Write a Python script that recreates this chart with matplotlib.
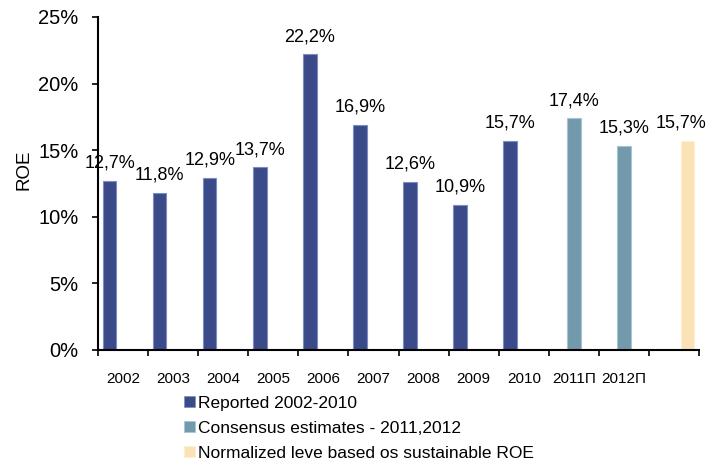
import matplotlib
matplotlib.use("Agg")
import matplotlib.pyplot as plt
from matplotlib.patches import Patch
from matplotlib.ticker import FixedLocator

plt.rcParams["font.family"] = ["Liberation Sans", "DejaVu Sans"]

# ROE, % per year
categories = ["2002", "2003", "2004", "2005", "2006", "2007", "2008",
              "2009", "2010", "2011П", "2012П", ""]
reported = [12.7, 11.8, 12.9, 13.7, 22.2, 16.9, 12.6, 10.9, 15.7]
consensus = [17.4, 15.3]
normalized = [15.7]
series_names = ["Reported 2002-2010",
                "Consensus estimates - 2011,2012",
                "Normalized leve based os sustainable ROE"]
colors = ["#3b4a89", "#739aac", "#fce1b4"]
edges = ["#7f8cc4", "#a9c3cf", "#fdeed5"]

fig = plt.figure(figsize=(7.09, 4.61), dpi=100)
ax = fig.add_axes([0.1382, 0.2408, 0.8478, 0.7224])

w = 0.27
groups = [
    (range(0, 9), reported, -w),
    (range(9, 11), consensus, 0.0),
    (range(11, 12), normalized, w),
]
for k, (idx, vals, off) in enumerate(groups):
    xs = [i + off for i in idx]
    ax.bar(xs, vals, width=w, color=colors[k], edgecolor=edges[k], linewidth=0.8)
    for j, (x, v) in enumerate(zip(xs, vals)):
        # keep the rightmost label inside the canvas
        dx = -5 if (k == len(groups) - 1 and j == len(vals) - 1) else 0
        ax.annotate(f"{v:.1f}%".replace(".", ","), (x, v),
                    textcoords="offset points", xytext=(dx, 9.5),
                    ha="center", va="baseline", fontsize=13)

ax.set_xlim(-0.5, len(categories) - 0.5)
ax.set_ylim(0, 25)
ax.set_yticks(range(0, 26, 5))
ax.set_yticklabels([f"{t}%" for t in range(0, 26, 5)], fontsize=14.5)
ax.tick_params(axis="y", length=4.5, width=1.2, pad=9.5, direction="out")

ax.set_xticks(range(len(categories)))
ax.set_xticklabels(categories, fontsize=11)
ax.tick_params(axis="x", which="major", length=0, pad=16)
ax.xaxis.set_minor_locator(FixedLocator([i - 0.5 for i in range(len(categories) + 1)]))
ax.tick_params(axis="x", which="minor", length=4, width=1.2, direction="out")

for s in ["top", "right"]:
    ax.spines[s].set_visible(False)
for s in ["left", "bottom"]:
    ax.spines[s].set_linewidth(1.5)

fig.text(24 / 709, 1 - 170 / 461, "ROE", rotation=90, ha="center", va="center",
         fontsize=13.5)

handles = [Patch(facecolor=c, edgecolor=e, linewidth=0.5) for c, e in zip(colors, edges)]
fig.legend(handles, series_names, loc="upper left", bbox_to_anchor=(0.259, 0.142),
           frameon=False, fontsize=12.5, handlelength=0.65, handleheight=0.65,
           handletextpad=0.15, labelspacing=0.58, borderpad=0, borderaxespad=0)

fig.savefig("out.png", dpi=100)
